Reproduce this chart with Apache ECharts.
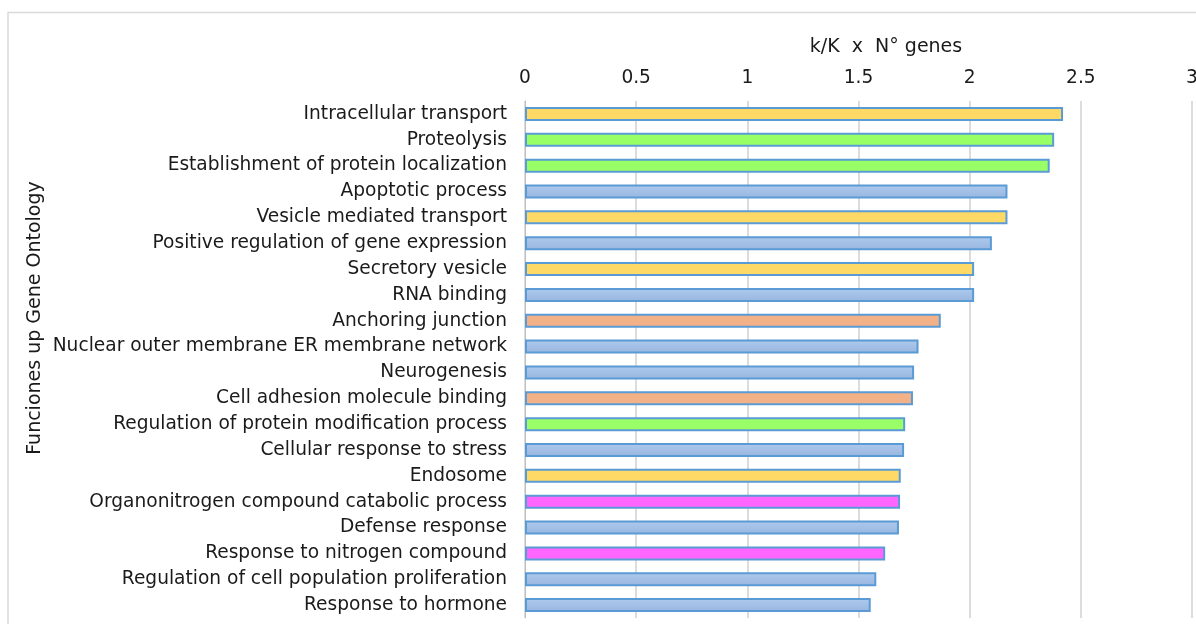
<!DOCTYPE html>
<html>
<head>
<meta charset="utf-8">
<script src="https://cdn.jsdelivr.net/npm/echarts@6/dist/echarts.min.js"></script>
<style>
html,body{margin:0;padding:0;background:#fff;}
#chart{width:1196px;height:624px;}
</style>
</head>
<body>
<div id="chart"></div>
<script>
// ---- data ----
const categories = [
  'Intracellular transport',
  'Proteolysis',
  'Establishment of protein localization',
  'Apoptotic process',
  'Vesicle mediated transport',
  'Positive regulation of gene expression',
  'Secretory vesicle',
  'RNA binding',
  'Anchoring junction',
  'Nuclear outer membrane ER membrane network',
  'Neurogenesis',
  'Cell adhesion molecule binding',
  'Regulation of protein modification process',
  'Cellular response to stress',
  'Endosome',
  'Organonitrogen compound catabolic process',
  'Defense response',
  'Response to nitrogen compound',
  'Regulation of cell population proliferation',
  'Response to hormone'
];
const values = [2.42, 2.38, 2.36, 2.17, 2.17, 2.10, 2.02, 2.02, 1.87, 1.77,
                1.75, 1.745, 1.71, 1.705, 1.69, 1.687, 1.682, 1.62, 1.58, 1.555];
const groups = ['transport','protein','protein','other','transport','other','transport','other','adhesion','other',
                'other','adhesion','protein','other','transport','nitrogen','other','nitrogen','other','other'];
const xTicks = [0, 0.5, 1, 1.5, 2, 2.5, 3];
const xTitle = 'k/K  x  N° genes';
const yTitle = 'Funciones up Gene Ontology';

// ---- styles ----
const blueGrad = new echarts.graphic.LinearGradient(0, 0, 0, 1, [
  {offset: 0, color: '#AECAEE'}, {offset: 1, color: '#98B5DE'}
]);
const groupColors = {
  transport: '#FFD966',
  protein: '#99FF66',
  other: blueGrad,
  adhesion: '#F2B186',
  nitrogen: '#FF66FF'
};
const textColor = '#1a1a1a';
const font = 'DejaVu Sans';

const chart = echarts.init(document.getElementById('chart'));
chart.setOption({
  animation: false,
  backgroundColor: '#fff',
  grid: {left: 525, right: 4, top: 101, bottom: 6, containLabel: false, outerBoundsMode: 'none'},
  xAxis: {
    type: 'value',
    position: 'top',
    min: xTicks[0],
    max: xTicks[xTicks.length - 1],
    interval: xTicks[1] - xTicks[0],
    axisLine: {show: false},
    axisTick: {show: false},
    axisLabel: {color: textColor, fontFamily: font, fontSize: 18.6, margin: 13},
    splitLine: {show: true, lineStyle: {color: '#D9D9D9', width: 1.8}}
  },
  yAxis: {
    type: 'category',
    inverse: true,
    data: categories,
    axisLine: {show: true, lineStyle: {color: '#BFBFBF', width: 1}},
    axisTick: {show: false},
    axisLabel: {color: textColor, fontFamily: font, fontSize: 18.6, margin: 18}
  },
  series: [{
    type: 'bar',
    barWidth: 14,
    data: values.map((v, i) => ({
      value: v,
      itemStyle: {color: groupColors[groups[i]]}
    })),
    itemStyle: {borderColor: '#5B9BD5', borderWidth: 2}
  }],
  graphic: [
    {
      type: 'polyline',
      shape: {points: [[8, 624], [8, 12.5], [1196, 12.5]]},
      style: {stroke: '#D9D9D9', lineWidth: 1.5, fill: null},
      silent: true
    },
    {
      type: 'text',
      x: 886, y: 47,
      style: {text: xTitle, fill: textColor, font: '19px "DejaVu Sans"', align: 'center', verticalAlign: 'middle'},
      silent: true
    },
    {
      type: 'text',
      x: 35, y: 318,
      rotation: Math.PI / 2,
      style: {text: yTitle, fill: textColor, font: '19px "DejaVu Sans"', align: 'center', verticalAlign: 'middle'},
      silent: true
    }
  ]
});
</script>
</body>
</html>
